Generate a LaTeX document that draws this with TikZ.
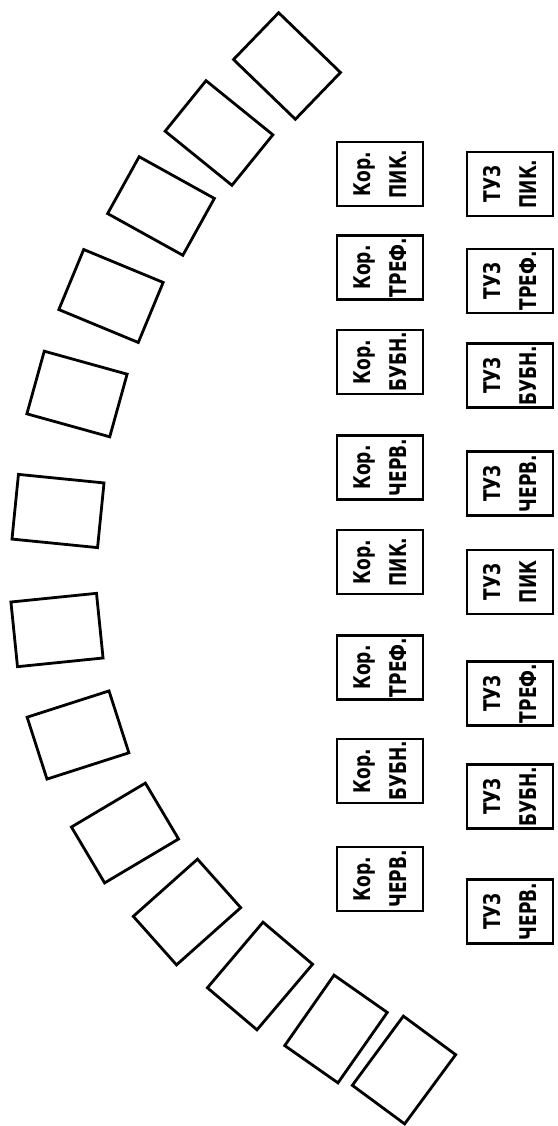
\documentclass[tikz,border=0pt]{standalone}
\usepackage{fontspec}
\newfontfamily\cardfont[FakeStretch=0.74]{DejaVu Sans}
\begin{document}
\begin{tikzpicture}[x=1pt,y=-1pt,
  card/.style={draw,line width=2.8pt,minimum width=86pt,minimum height=65pt,inner sep=0pt,line join=miter},
  lbl/.style={draw,line width=2.8pt,rotate=90,minimum width=64pt,minimum height=86pt,inner sep=0pt,
    align=center,font=\cardfont\bfseries\fontsize{23}{36}\selectfont}]
\useasboundingbox (0,0) rectangle (557,1126);
% arc of cards
\node[card,rotate=-44]   (c1)  at (287,66)   {};
\node[card,rotate=-39]   (c2)  at (219,133)  {};
\node[card,rotate=-29]   (c3)  at (161,206)  {};
\node[card,rotate=-22.5] (c4)  at (111,296)  {};
\node[card,rotate=-15.5] (c5)  at (77,394)   {};
\node[card,rotate=-5.7]  (c6)  at (58,511)   {};
\node[card,rotate=5.8]   (c7)  at (57,630)   {};
\node[card,rotate=17.8]  (c8)  at (78,735)   {};
\node[card,rotate=30.7]  (c9)  at (125,833)  {};
\node[card,rotate=41.7]  (c10) at (187,912)  {};
\node[card,rotate=49.7]  (c11) at (260,976)  {};
\node[card,rotate=55]    (c12) at (336,1029) {};
\node[card,rotate=53.6]  (c13) at (404,1070) {};
% kings
\node[lbl] (k1) at (380,174)   {Кор.\\ПИК.};
\node[lbl] (k2) at (380,267.5) {Кор.\\ТРЕФ.};
\node[lbl] (k3) at (380,362)   {Кор.\\БУБН.};
\node[lbl] (k4) at (380,467.5) {Кор.\\ЧЕРВ.};
\node[lbl] (k5) at (380,562)   {Кор.\\ПИК.};
\node[lbl] (k6) at (380,667.5) {Кор.\\ТРЕФ.};
\node[lbl] (k7) at (380,771)   {Кор.\\БУБН.};
\node[lbl] (k8) at (380,879)   {Кор.\\ЧЕРВ.};
% aces
\node[lbl] (a1) at (510,184)   {ТУЗ\\ПИК.};
\node[lbl] (a2) at (510,281)   {ТУЗ\\ТРЕФ.};
\node[lbl] (a3) at (510,375.5) {ТУЗ\\БУБН.};
\node[lbl] (a4) at (510,483.5) {ТУЗ\\ЧЕРВ.};
\node[lbl] (a5) at (510,582)   {ТУЗ\\ПИК};
\node[lbl] (a6) at (510,693.5) {ТУЗ\\ТРЕФ.};
\node[lbl] (a7) at (510,796.5) {ТУЗ\\БУБН.};
\node[lbl] (a8) at (510,911.5) {ТУЗ\\ЧЕРВ.};
\end{tikzpicture}
\end{document}
